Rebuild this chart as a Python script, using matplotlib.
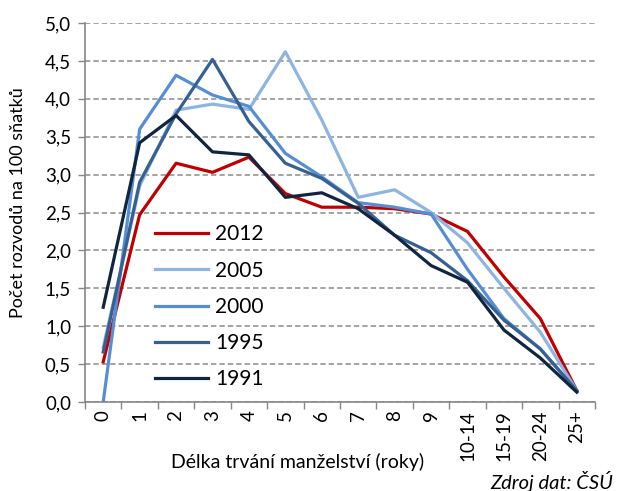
import matplotlib.pyplot as plt
from matplotlib.ticker import FuncFormatter, MultipleLocator

plt.rcParams['font.family'] = ['Lato', 'DejaVu Sans']

# data
kategorie = ["0", "1", "2", "3", "4", "5", "6", "7", "8", "9",
             "10-14", "15-19", "20-24", "25+"]
roky = ["2012", "2005", "2000", "1995", "1991"]
r2012 = [0.53, 2.47, 3.15, 3.03, 3.23, 2.75, 2.57, 2.57, 2.55, 2.48, 2.25, 1.65, 1.10, 0.15]
r2005 = [0.72, 2.85, 3.85, 3.93, 3.86, 4.62, 3.72, 2.70, 2.80, 2.50, 2.10, 1.50, 0.92, 0.15]
r2000 = [0.00, 3.60, 4.31, 4.05, 3.90, 3.28, 2.97, 2.63, 2.57, 2.48, 1.75, 1.10, 0.70, 0.15]
r1995 = [0.66, 2.90, 3.80, 4.52, 3.70, 3.15, 2.95, 2.62, 2.20, 1.97, 1.60, 1.08, 0.70, 0.15]
r1991 = [1.25, 3.42, 3.78, 3.30, 3.26, 2.70, 2.76, 2.55, 2.20, 1.80, 1.58, 0.95, 0.58, 0.13]
barvy = ["#C00000", "#8DB4E2", "#558ED5", "#376092", "#10253F"]

fig = plt.figure(figsize=(6.18, 4.91), dpi=100)
ax = fig.add_axes([85 / 618, 1 - 402 / 491, 510 / 618, 379 / 491])

x = list(range(len(kategorie)))
for rok, hodnoty, barva in zip(roky, [r2012, r2005, r2000, r1995, r1991], barvy):
    ax.plot(x, hodnoty, color=barva, lw=2.3, label=rok)

ax.set_xlim(-0.5, len(kategorie) - 0.5)
ax.set_ylim(0, 5)
ax.yaxis.set_major_locator(MultipleLocator(0.5))
ax.yaxis.set_major_formatter(FuncFormatter(lambda v, p: f"{v:.1f}".replace(".", ",")))
ax.grid(axis='y', color='#8C8C8C', ls=(0, (3.5, 2)), lw=1.1)
ax.set_axisbelow(True)

ax.set_xticks(x)
ax.set_xticklabels(kategorie, rotation=90)
ax.set_xticks([i - 0.5 for i in range(len(kategorie) + 1)], minor=True)
ax.tick_params(axis='x', which='major', length=0, pad=6, labelsize=13.5)
ax.tick_params(axis='x', which='minor', length=5, color='#868686', width=1)
ax.tick_params(axis='y', length=5, color='#868686', width=1, labelsize=13.5, pad=5)

for s in ['top', 'right']:
    ax.spines[s].set_visible(False)
for s in ['left', 'bottom']:
    ax.spines[s].set_color('#868686')
    ax.spines[s].set_linewidth(1.2)

ax.set_ylabel("Počet rozvodů na 100 sňatků", fontsize=13)
ax.yaxis.set_label_coords(-0.116, 0.525)
fig.text(298 / 618, 1 - 462 / 491, "Délka trvání manželství (roky)", fontsize=14,
         ha='center', va='center')
fig.text(613 / 618, 1 - 482 / 491, "Zdroj dat: ČSÚ", fontsize=14.5, style='italic',
         ha='right', va='center')

ax.legend(loc='center left', bbox_to_anchor=(0.121, 0.251), frameon=False, fontsize=15,
          handlelength=2.55, labelspacing=0.78, handletextpad=0.35, borderaxespad=0)

fig.savefig("out.png", dpi=100)
